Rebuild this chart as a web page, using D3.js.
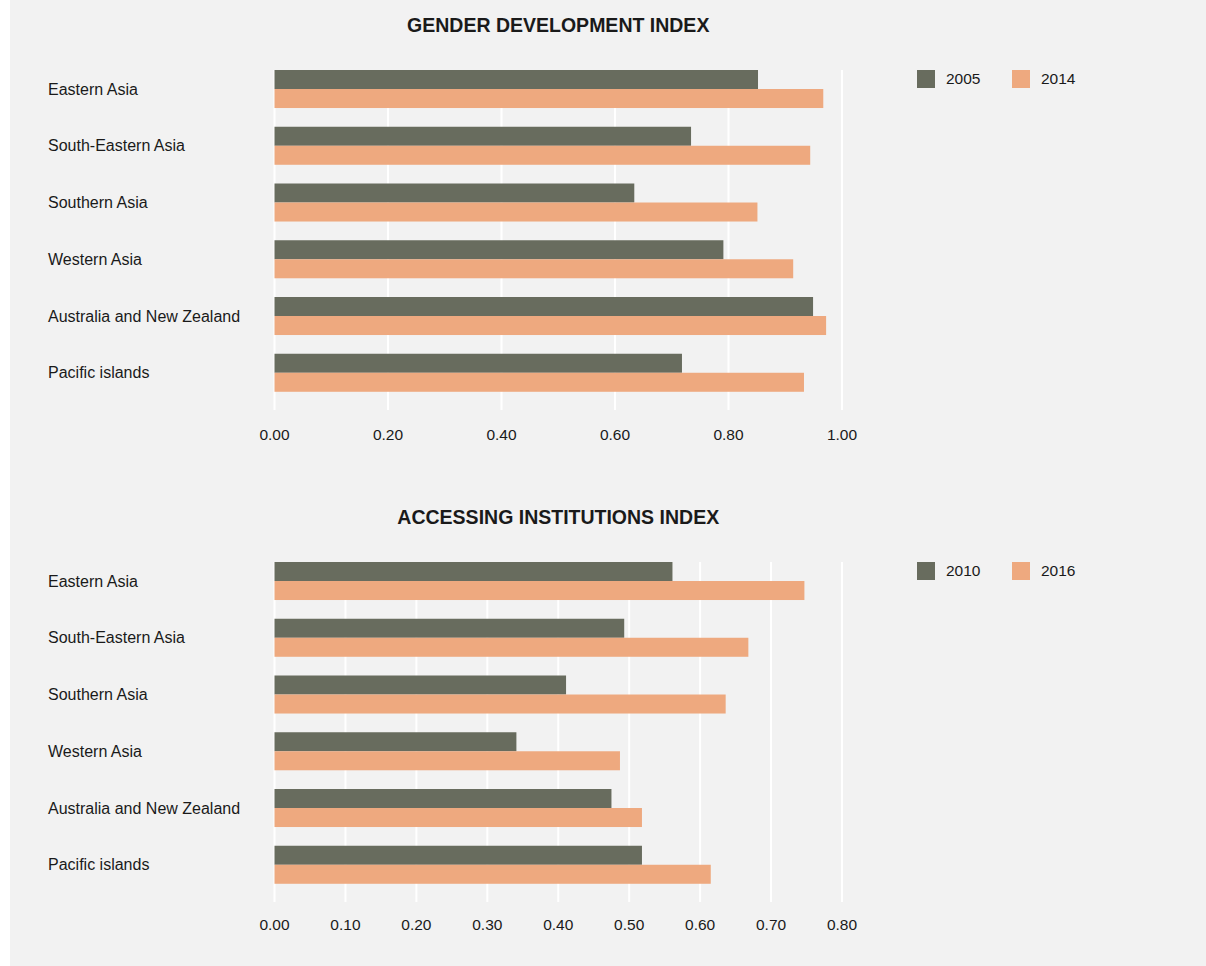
<!DOCTYPE html>
<html>
<head>
<meta charset="utf-8">
<script src="https://cdn.jsdelivr.net/npm/d3@7"></script>
<style>
  html, body { margin: 0; padding: 0; background: #ffffff; }
  svg { display: block; }
  text { font-family: "Helvetica Neue", Helvetica, Arial, "Liberation Sans", sans-serif; fill: #1a1a1a; }
</style>
</head>
<body>
<svg id="chart" width="1206" height="966"></svg>
<script>
const regions = ["Eastern Asia", "South-Eastern Asia", "Southern Asia", "Western Asia", "Australia and New Zealand", "Pacific islands"];

const gdiYears = ["2005", "2014"];
const gdi2005 = [0.852, 0.734, 0.634, 0.791, 0.949, 0.718];
const gdi2014 = [0.967, 0.944, 0.851, 0.914, 0.972, 0.933];
const gdiTicks = [0, 0.2, 0.4, 0.6, 0.8, 1.0];

const aiiYears = ["2010", "2016"];
const aii2010 = [0.561, 0.493, 0.411, 0.341, 0.475, 0.518];
const aii2016 = [0.747, 0.668, 0.636, 0.487, 0.518, 0.615];
const aiiTicks = [0, 0.1, 0.2, 0.3, 0.4, 0.5, 0.6, 0.7, 0.8];

const colors = ["#686c5e", "#eea97f"];

const svg = d3.select("#chart");
svg.append("rect").attr("x", 10).attr("y", 0).attr("width", 1196).attr("height", 966).attr("fill", "#f2f2f2");

function panel(opt) {
  const { title, years, seriesA, seriesB, ticks, xMax, top, titleY, gridBottom, tickY } = opt;
  const g = svg.append("g");
  const x = d3.scaleLinear().domain([0, xMax]).range([274.5, 842]);
  const step = 56.75;
  const y = d3.scaleBand().domain(regions)
    .range([top, top + 6 * step - 0.33 * step])
    .paddingInner(0.33).paddingOuter(0);
  const sub = d3.scaleBand().domain(years).range([0, y.bandwidth()]);

  g.append("text").attr("x", (x(0) + x(xMax)) / 2).attr("y", titleY)
    .attr("text-anchor", "middle").attr("font-size", 19.5).attr("font-weight", "bold")
    .text(title);

  // gridlines
  g.selectAll("line.grid").data(ticks).join("line")
    .attr("x1", d => x(d)).attr("x2", d => x(d))
    .attr("y1", top).attr("y2", gridBottom)
    .attr("stroke", "#ffffff").attr("stroke-width", 2);

  // tick labels
  g.selectAll("text.tick").data(ticks).join("text")
    .attr("x", d => x(d)).attr("y", tickY)
    .attr("text-anchor", "middle").attr("font-size", 15.5)
    .text(d => d3.format(".2f")(d));

  // category labels
  g.selectAll("text.cat").data(regions).join("text")
    .attr("x", 48).attr("y", d => y(d) + y.bandwidth() / 2)
    .attr("dy", "0.35em").attr("font-size", 16)
    .text(d => d);

  const rows = regions.map((r, i) => ({ r, vals: [seriesA[i], seriesB[i]] }));
  rows.forEach(row => {
    row.vals.forEach((v, j) => {
      g.append("rect")
        .attr("x", x(0)).attr("y", y(row.r) + sub(years[j]))
        .attr("width", x(v) - x(0)).attr("height", sub.bandwidth())
        .attr("fill", colors[j]);
    });
  });

  // legend
  const lg = g.append("g");
  years.forEach((yr, j) => {
    lg.append("rect").attr("x", 917 + j * 95).attr("y", top).attr("width", 18).attr("height", 18).attr("fill", colors[j]);
    lg.append("text").attr("x", 946 + j * 95).attr("y", top + 9).attr("dy", "0.35em")
      .attr("font-size", 15.5).text(yr);
  });
}

panel({ title: "GENDER DEVELOPMENT INDEX", years: gdiYears, seriesA: gdi2005, seriesB: gdi2014,
  ticks: gdiTicks, xMax: 1.0, top: 70, titleY: 32, gridBottom: 410, tickY: 440 });
panel({ title: "ACCESSING INSTITUTIONS INDEX", years: aiiYears, seriesA: aii2010, seriesB: aii2016,
  ticks: aiiTicks, xMax: 0.8, top: 562, titleY: 524, gridBottom: 902, tickY: 930 });
</script>
</body>
</html>
